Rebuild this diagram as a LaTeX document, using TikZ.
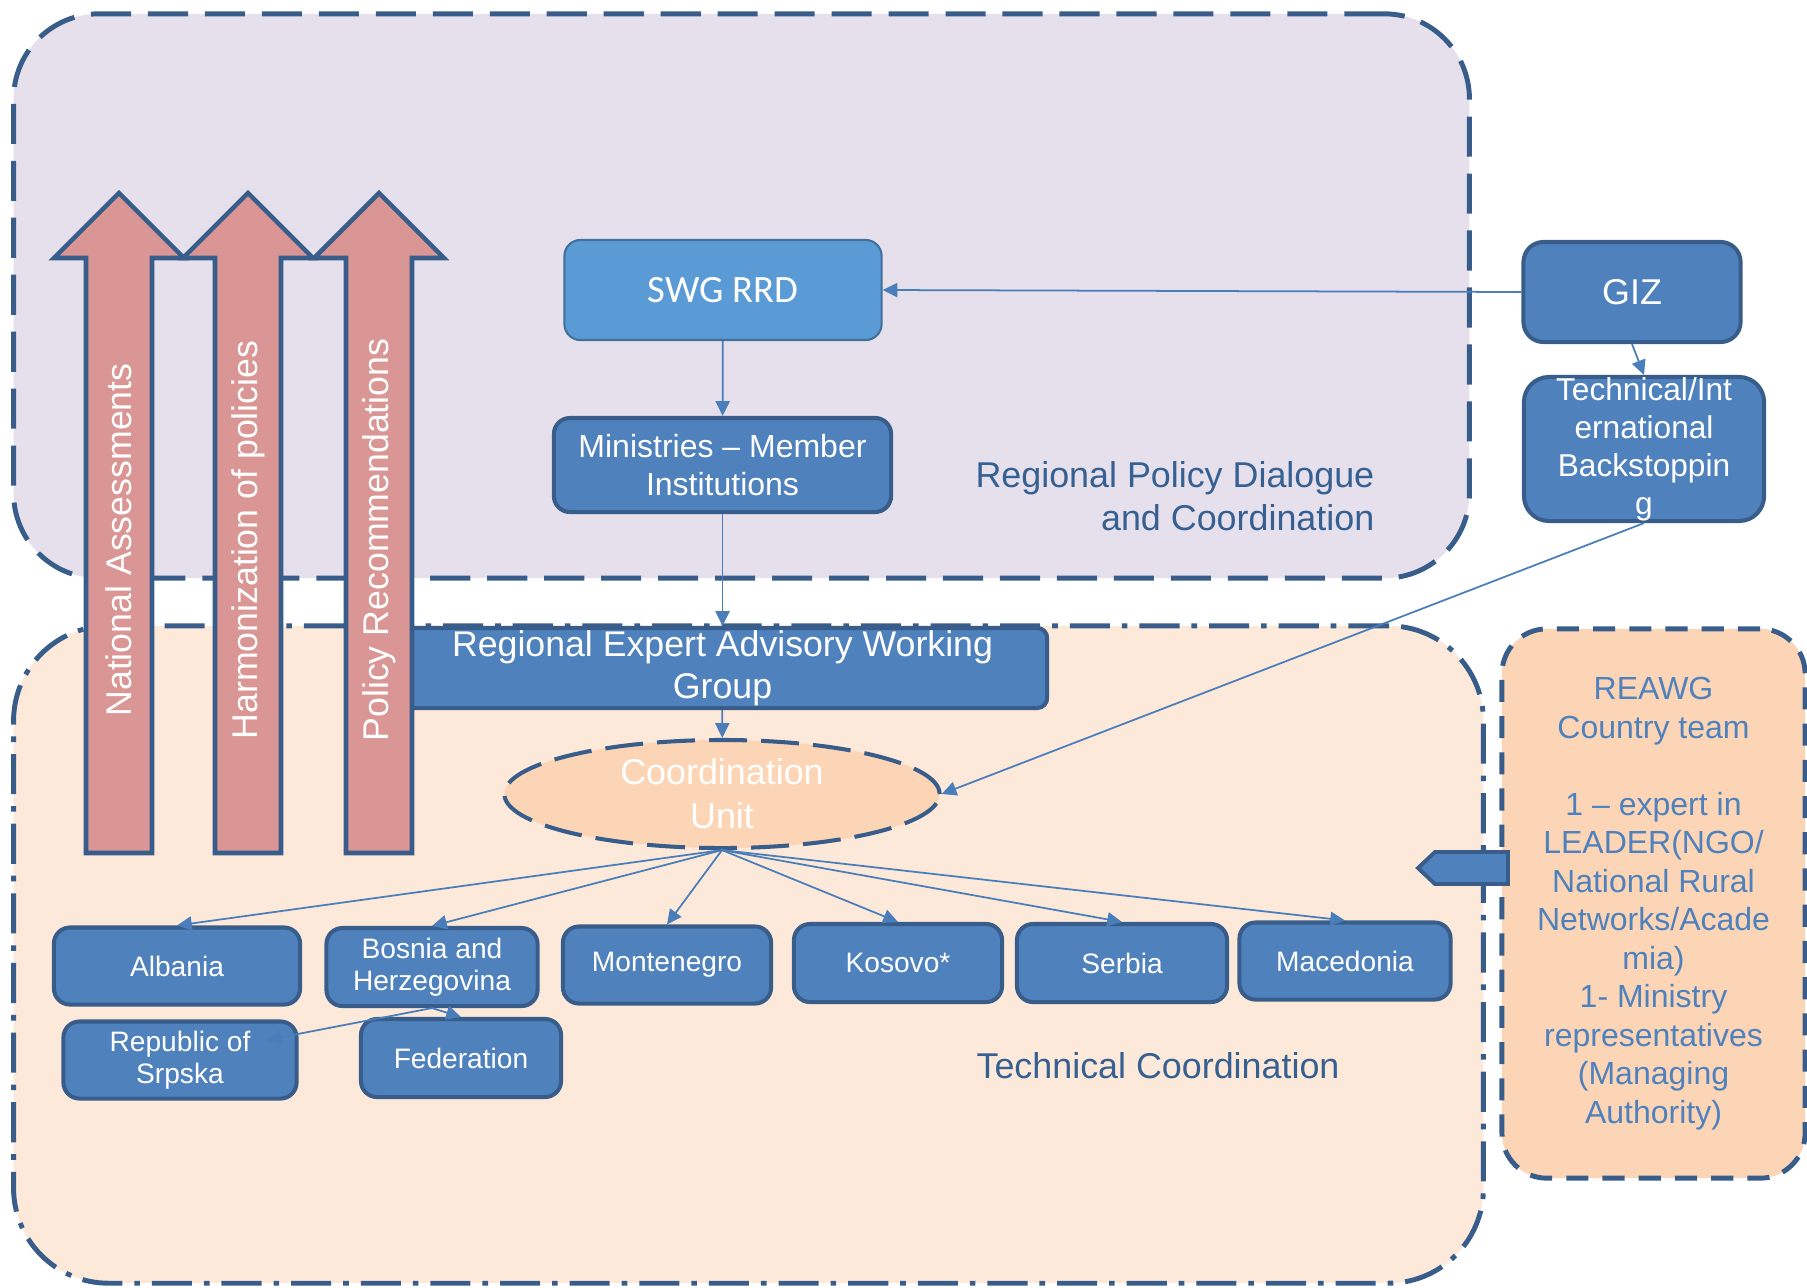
\documentclass[tikz,border=0pt]{standalone}
\usepackage{fontspec}
\setmainfont{Liberation Sans}
\newfontfamily\calibrifont{Carlito}
\usepackage{tikz}
\usetikzlibrary{arrows.meta,calc,shapes.geometric}
\definecolor{dkblue}{HTML}{385D8A}
\definecolor{boxblue}{HTML}{4F81BD}
\definecolor{swgblue}{HTML}{5B9BD5}
\definecolor{swgline}{HTML}{41719C}
\definecolor{linkblue}{HTML}{4A7EBB}
\definecolor{lavender}{HTML}{E5E0EC}
\definecolor{peachlight}{HTML}{FDE9D9}
\definecolor{peach}{HTML}{FBD5B5}
\definecolor{salmon}{HTML}{D99694}
\definecolor{labelblue}{HTML}{376092}
\tikzset{
  region/.style={draw=dkblue,line width=1.4pt,inner sep=0pt},
  bluebox/.style={draw=dkblue,fill=boxblue,line width=1.15pt,rounded corners=0.16cm,text=white,align=center,inner sep=0pt,font=\fontsize{8}{9.2}\selectfont},
  link/.style={draw=linkblue,line width=0.5pt,-{Triangle[length=4.2pt,width=4pt]}},
  bigarrow/.style={draw=dkblue,fill=salmon,line width=1.3pt,line join=miter},
  arrowtext/.style={rotate=90,text=white,inner sep=0pt,font=\fontsize{10.15}{12}\selectfont},
  regionlabel/.style={text=labelblue,inner sep=0pt,font=\fontsize{10.2}{12.2}\selectfont}
}

\begin{document}
\begin{tikzpicture}[x=0.01cm,y=-0.01cm]
  \useasboundingbox (0,0) rectangle (1807,1287);
  \node[region,fill=lavender,rounded corners=0.85cm,dash pattern=on 11.4pt off 4.8pt,minimum width=14.55cm,minimum height=5.64cm] (dialogue) at (741.5,296) {};
  \node[region,fill=peachlight,rounded corners=0.95cm,dash pattern=on 11.4pt off 3.4pt on 1.6pt off 3.4pt,minimum width=14.69cm,minimum height=6.57cm] (technical) at (748.5,954.5) {};
  \node[region,fill=peach,rounded corners=0.45cm,dash pattern=on 6.3pt off 4pt,minimum width=3.03cm,minimum height=5.49cm,text=boxblue,align=center,font=\fontsize{9.1}{10.95}\selectfont] (team) at (1653.5,903.5) {REAWG\\Country team\\[10.95pt]1 – expert in\\LEADER(NGO/\\National Rural\\Networks/Acade\\mia)\\1- Ministry\\representatives\\(Managing\\Authority)};
  \node[regionlabel,align=right,anchor=east] (dialoguelabel) at (1375,496) {Regional Policy Dialogue\\and Coordination};
  \node[regionlabel,anchor=base] (technicallabel) at (1158,1078) {Technical Coordination};

  \node[draw=swgline,fill=swgblue,line width=0.6pt,rounded corners=0.16cm,minimum width=3.17cm,minimum height=1cm,inner sep=0pt,text=white,font=\calibrifont\fontsize{11}{13}\selectfont] (swg) at (723,290) {SWG RRD};
  \node[bluebox,rounded corners=0.2cm,minimum width=2.17cm,minimum height=1cm,font=\fontsize{10.2}{12}\selectfont] (giz) at (1632,292) {GIZ};
  \node[bluebox,rounded corners=0.25cm,minimum width=2.4cm,minimum height=1.44cm,font=\fontsize{9}{10.8}\selectfont] (tech) at (1644,449) {Technical/Int\\ernational\\Backstoppin\\g};
  \node[bluebox,minimum width=3.37cm,minimum height=0.94cm,font=\fontsize{9.1}{10.8}\selectfont] (ministries) at (722.5,465) {Ministries – Member\\Institutions};
  \node[bluebox,rounded corners=0.1cm,minimum width=6.49cm,minimum height=0.8cm,font=\fontsize{10.15}{12}\selectfont] (reawg) at (722.5,668) {Regional Expert Advisory Working\\Group};
  \node[ellipse,draw=dkblue,fill=peach,line width=1.15pt,dash pattern=on 10.8pt off 4pt,minimum width=4.35cm,minimum height=1.08cm,inner xsep=0pt,inner ysep=-2pt,text=white,align=center,font=\fontsize{10.2}{12.5}\selectfont] (cu) at (722,794) {Coordination\\Unit};

  \node[bluebox,minimum width=2.46cm,minimum height=0.77cm] (albania) at (177,966) {Albania};
  \node[bluebox,minimum width=2.11cm,minimum height=0.78cm] (bosnia) at (432,967) {Bosnia and\\Herzegovina};
  \node[bluebox,minimum width=2.08cm,minimum height=0.77cm] (montenegro) at (667,965) {Montenegro};
  \node[bluebox,minimum width=2.08cm,minimum height=0.78cm] (kosovo) at (898,963) {Kosovo*};
  \node[bluebox,minimum width=2.1cm,minimum height=0.78cm] (serbia) at (1122,963) {Serbia};
  \node[bluebox,minimum width=2.11cm,minimum height=0.77cm] (macedonia) at (1345,961) {Macedonia};
  \node[bluebox,minimum width=2.33cm,minimum height=0.77cm] (republic) at (180,1060) {Republic of\\Srpska};
  \node[bluebox,minimum width=2cm,minimum height=0.78cm] (federation) at (461,1058) {Federation};

  \draw[link] (giz.west) -- (swg.east);
  \draw[link] (giz.south) -- (tech.north);
  \draw[link] (swg) -- (ministries);
  \draw[link] (ministries) -- (reawg);
  \draw[link] (reawg) -- (cu);
  \draw[link] (tech.south) -- (cu.east);
  \foreach \c in {albania,bosnia,montenegro,kosovo,serbia,macedonia}
    \draw[link] (cu.south) -- (\c.north);
  \draw[link] (bosnia.south) -- (federation.north);
  \draw[link] (bosnia.south) -- ($(republic.east)+(-32,-20)$);

  \draw[draw=dkblue,fill=boxblue,line width=1.1pt] (1418,868) -- (1435,852) -- (1508,852) -- (1508,884) -- (1435,884) -- cycle;

  \foreach \x/\name/\txt in {119/natass/National Assessments,248/harmon/Harmonization of policies,379/polrec/Policy Recommendations}{
    \draw[bigarrow] ({\x-33},853) -- ({\x-33},258) -- ({\x-65},258) -- (\x,193) -- ({\x+65},258) -- ({\x+33},258) -- ({\x+33},853) -- cycle;
    \node[arrowtext] (\name) at (\x,540) {\txt};
  }
\end{tikzpicture}
\end{document}
